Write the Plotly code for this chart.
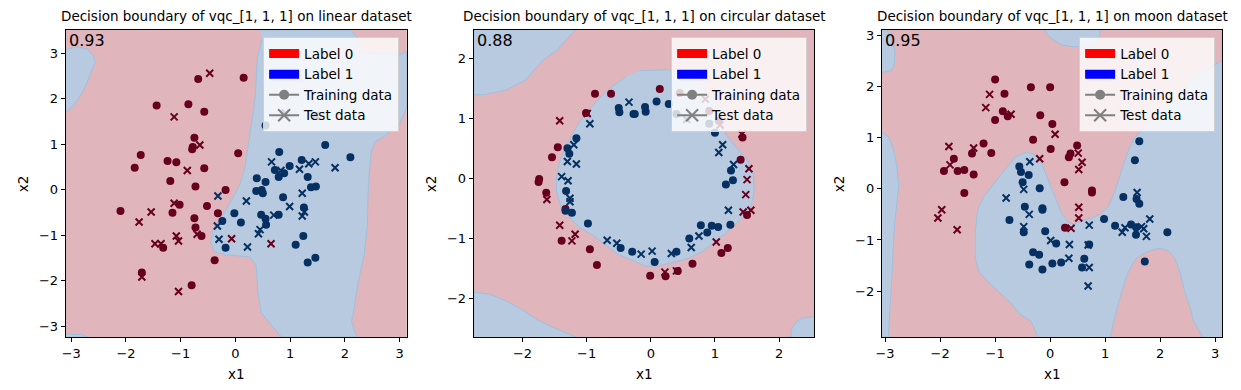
import plotly.graph_objects as go

# ---------------- linear dataset ----------------
lin_train0_x = [-0.68, 0.15, -1.44, -0.86, -0.57, -0.75, -0.78, -0.79, -1.73, 0.05, -1.84, -1.24, -1.08, -0.57, -1.19,
                -0.73, -0.18, -2.10, -1.02, -1.15, -0.52, -0.32, -0.75, -0.73, -0.62, -1.32, -0.38, -1.71, -0.80]
lin_train0_y = [2.43, 2.46, 1.85, 1.88, 1.71, 1.14, 0.94, 0.89, 0.76, 0.80, 0.48, 0.63, 0.60, 0.47, 0.19,
                0.07, -0.01, -0.47, -0.33, -0.51, -0.36, -0.52, -0.63, -0.83, -1.02, -1.28, -1.55, -1.82, -2.10]
lin_test0_x = [-0.47, -1.12, -0.65, -0.88, -1.12, -1.54, -1.76, -1.08, -1.04, -1.47, -1.36, -0.70, -0.07, 0.65, -1.71, -1.04]
lin_test0_y = [2.56, 1.60, 0.98, 0.42, -0.30, -0.49, -0.71, -1.02, -1.13, -1.19, -1.19, -0.98, -1.08, -1.19, -1.92, -2.24]
lin_train1_x = [0.55, 1.64, 2.10, 0.80, 1.21, 0.99, 0.72, 0.79, 0.89, 0.39, 0.55, 1.32, 0.38, 0.48, 0.50, 1.38,
                1.47, 0.87, -0.02, -0.24, 0.10, 0.47, 0.79, 0.55, 0.56, 1.25, 1.24, 1.10, -0.18, 1.32, 1.46]
lin_train1_y = [1.41, 0.98, 0.71, 0.83, 0.65, 0.52, 0.43, 0.28, 0.36, 0.25, 0.17, 0.28, -0.03, -0.01, -0.08, 0.05,
                0.07, -0.17, -0.52, -0.69, -0.72, -0.55, -0.55, -0.64, -0.77, -0.39, -1.02, -1.21, -1.28, -1.60, -1.50]
lin_test1_x = [-0.32, -0.33, -0.30, 0.20, 0.22, 0.42, 0.45, 0.66, 0.83, 0.99, 0.70, 1.17, 1.22, 1.22, 1.26, 1.34,
               1.46, 1.82, 0.91, 1.47]
lin_test1_y = [-0.14, -0.80, -1.09, -0.25, -1.26, -0.97, -0.88, 0.61, 0.42, -0.37, -0.56, 0.45, -0.08, -0.58, -0.49,
               0.57, 0.61, 0.48, 1.68, 1.63]
# regions predicted as label 1
lin_blue_a_x = [-3.10, -2.95, -2.77, -2.62, -2.56, -2.60, -2.72, -2.92, -3.10]
lin_blue_a_y = [1.70, 1.86, 2.19, 2.60, 2.80, 2.95, 3.10, 3.14, 3.08]
lin_blue_b_x = [0.45, 2.11, 2.20, 2.26, 3.00, 3.13, 3.13, 3.00, 2.75, 2.55, 2.48, 2.44, 2.42, 2.41, 2.35, 2.23,
                2.17, 2.12, 2.22, 0.84, 0.60, 0.47, 0.41, 0.38, 0.26, -0.19, -0.38, -0.45, -0.41, -0.25, -0.07,
                0.08, 0.17, 0.23, 0.29, 0.36, 0.40, 0.48]
lin_blue_b_y = [3.51, 3.51, 3.37, 3.01, 2.96, 3.04, 1.80, 1.45, 1.20, 1.05, 0.83, 0.32, -0.19, -0.78, -1.44, -2.10,
                -2.60, -2.90, -3.24, -3.24, -2.90, -2.70, -2.25, -1.66, -1.48, -1.43, -1.37, -1.15, -0.89, -0.60,
                -0.23, 0.10, 0.47, 0.91, 1.42, 2.01, 2.89, 3.30]
lin_blue_c_x = [-3.10, -2.72, -2.80, -3.10]
lin_blue_c_y = [-3.24, -3.24, -3.19, -3.17]
lin_xticks = [-3, -2, -1, 0, 1, 2, 3]
lin_yticks = [-3, -2, -1, 0, 1, 2, 3]

# ---------------- circular dataset ----------------
circ_train0_x = [-0.87, -0.62, 0.14, 0.45, -1.01, -1.45, -1.54, -1.74, -1.75, -1.63, -1.33, -1.39, -0.95, -0.84,
                 -0.01, 0.23, 0.42, 0.65, 1.10, 1.20, 1.43, 1.40, 1.50, 1.06, 0.91]
circ_train0_y = [1.41, 1.41, 1.49, 1.42, 1.09, 0.52, 0.35, -0.01, -0.06, -0.24, -0.51, -1.04, -1.18, -1.44,
                 -1.62, -1.63, -1.54, -1.42, -1.24, -1.16, 0.68, 0.31, -0.61, 0.96, 1.12]
circ_test0_x = [-1.42, -0.99, -1.62, -1.42, -1.23, -1.18, 0.22, 0.40, 1.02, 1.42, 1.53, 1.50, 1.48, 1.44, 1.56, 0.85, 1.08]
circ_test0_y = [0.96, 1.08, -0.35, -0.78, -1.04, -0.93, -1.56, -1.54, -1.06, 0.74, 0.16, -0.02, -0.27, -0.56, -0.53, 1.32, 0.89]
circ_train1_x = [-0.50, -0.49, -0.27, -0.25, -0.09, -0.08, 0.09, 0.28, 0.40, 0.91, 1.00, -1.16, -1.30, -1.27, -1.32,
                 -1.33, -1.23, -0.98, -0.47, -0.29, 0.06, 0.40, 0.60, 0.78, 0.88, 0.95, 1.05, 1.24, 1.17, 1.25, 1.28]
circ_train1_y = [1.17, 1.10, 1.07, 1.07, 1.19, 1.11, 1.28, 1.24, 1.07, 0.91, 0.76, 0.67, 0.50, 0.41, -0.21,
                 -0.54, -0.57, -0.75, -1.16, -1.22, -1.39, -1.22, -1.00, -0.78, -0.90, -0.79, -0.81, -0.77, -0.10, 0.13, -0.03]
circ_test1_x = [-0.34, -0.95, -1.20, -1.30, -1.16, -1.39, -1.29, -1.26, -1.26, -0.68, -0.53, -0.15, 0.02, 0.32, 0.63,
                0.75, 1.06, 1.12, 1.29, 1.21, 0.56]
circ_test1_y = [1.27, 0.91, 0.56, 0.28, 0.24, 0.03, -0.04, -0.33, -0.39, -1.03, -1.08, -1.26, -1.21, -1.25, -1.15,
                -0.96, 0.43, 0.56, 0.23, -0.53, 0.98]
circ_blue_tl_x = [-2.76, -2.76, -2.57, -2.26, -1.95, -1.70, -1.45, -1.30, -1.18]
circ_blue_tl_y = [2.47, 1.39, 1.40, 1.47, 1.64, 1.95, 2.15, 2.33, 2.47]
circ_blue_bl_x = [-2.76, -2.76, -2.51, -2.26, -2.00, -1.76, -1.48, -1.17]
circ_blue_bl_y = [-2.64, -1.89, -1.93, -2.04, -2.19, -2.36, -2.50, -2.64]
circ_blue_br_x = [2.18, 2.20, 2.26, 2.35, 2.55, 2.55]
circ_blue_br_y = [-2.64, -2.50, -2.40, -2.33, -2.30, -2.64]
circ_blue_c_x = [-0.19, 0.28, 0.64, 0.85, 1.00, 1.08, 1.18, 1.34, 1.50, 1.60, 1.61, 1.57, 1.47, 1.31, 1.16, 1.00,
                 0.80, 0.59, 0.33, 0.12, -0.08, -0.29, -0.50, -0.70, -0.91, -1.12, -1.27, -1.40, -1.47, -1.47,
                 -1.42, -1.33, -1.23, -1.12, -0.99, -0.81, -0.60, -0.39]
circ_blue_c_y = [1.79, 1.81, 1.67, 1.47, 1.22, 0.94, 0.72, 0.50, 0.31, 0.06, -0.22, -0.44, -0.61, -0.78, -0.92,
                 -1.06, -1.22, -1.33, -1.40, -1.46, -1.46, -1.36, -1.27, -1.11, -0.94, -0.81, -0.64, -0.47, -0.22,
                 0.03, 0.28, 0.50, 0.72, 0.92, 1.11, 1.33, 1.53, 1.69]
circ_xticks = [-2, -1, 0, 1, 2]
circ_yticks = [-2, -1, 0, 1, 2]

# ---------------- moon dataset ----------------
moon_train0_x = [-1.00, -0.35, 0.00, -0.83, -0.86, -0.77, -0.18, -1.00, 0.04, -0.31, 0.01, -1.21, -1.42, -1.07,
                 -1.75, -1.93, -1.68, -1.56, -1.39, -1.56, 0.49, 0.37, 0.34, 0.26, 0.76, 0.76, 0.27]
moon_train0_y = [2.14, 1.99, 1.99, 1.86, 1.52, 1.42, 1.44, 1.35, 1.27, 0.96, 0.78, 0.89, 0.69, 0.70,
                 0.59, 0.35, 0.35, 0.37, 0.28, -0.08, 0.85, 0.69, 0.62, 0.13, -0.03, -0.07, -0.76]
moon_test0_x = [-1.10, -1.17, -0.71, 0.09, -1.84, -1.39, -1.82, -1.97, -2.04, -1.69, -0.19, 0.51, 0.58, 0.52, 0.52, 0.52, 0.38]
moon_test0_y = [1.85, 1.59, 1.46, 1.07, 0.83, 0.80, 0.47, -0.41, -0.57, -0.80, 0.59, 0.70, 0.52, 0.38, -0.36, -0.57, -0.77]
moon_train1_x = [-0.56, -0.53, -0.39, -0.50, -0.19, -0.46, -0.14, -0.14, -0.74, -0.48, -0.09, 0.11, -0.31, -0.20,
                 -0.38, -0.14, 0.04, 0.20, 0.62, 0.58, 0.71, 0.98, 1.18, 1.33, 1.62, 1.54, 1.57, 1.62, 1.47, 1.56,
                 1.56, 2.13, 1.72]
moon_train1_y = [0.44, 0.33, 0.27, 0.13, 0.01, -0.35, -0.38, -0.41, -0.61, -0.85, -0.83, -1.07, -1.24, -1.29,
                 -1.48, -1.58, -1.46, -1.44, -1.37, -1.54, -1.09, -0.59, -0.72, -0.16, 0.93, 0.56, -0.20, -0.29,
                 -0.70, -0.75, -0.90, -0.85, -1.42]
moon_test1_x = [-0.37, -0.80, -0.48, -0.38, -0.48, 0.01, 0.35, 0.34, 0.71, 0.69, 0.71, 0.69, 1.31, 1.36, 1.58,
                1.70, 1.81, 1.75, 1.66]
moon_test1_y = [0.53, -0.18, -0.01, -0.50, -0.74, -1.01, -1.09, -1.36, -0.71, -1.10, -1.54, -1.90, -0.85, -0.76,
                -0.07, -0.78, -0.59, -0.93, -0.74]
moon_blue_tl_x = [-3.06, -2.96, -2.90, -2.82, -2.83, -2.88, -3.06]
moon_blue_tl_y = [3.11, 3.11, 2.95, 2.70, 2.45, 2.32, 2.28]
moon_blue_l_x = [-3.06, -2.93, -2.85, -2.79, -2.75, -2.79, -2.83, -2.86, -2.89, -2.94, -3.06]
moon_blue_l_y = [1.11, 1.01, 0.78, 0.46, 0.07, -0.33, -0.72, -1.37, -2.03, -2.90, -2.90]
moon_blue_t_x = [-0.10, -0.01, 0.20, 0.44, 0.80, 0.89, 0.91]
moon_blue_t_y = [3.11, 2.97, 2.82, 2.78, 2.80, 2.94, 3.11]
moon_blue_m_x = [3.13, 2.60, 2.10, 1.69, 1.52, 1.41, 1.33, 1.25, 1.17, 1.07, 0.92, 0.74, 0.56, 0.44, 0.32, 0.20,
                 0.08, -0.04, -0.16, -0.28, -0.43, -0.61, -0.79, -1.00, -1.21, -1.32, -1.36, -1.36, -1.29, -1.12,
                 -0.91, -0.73, -0.55, -0.34, -0.22, 1.09, 1.16, 1.28, 1.40, 1.55, 1.76, 2.00, 2.15, 2.27, 2.36,
                 2.45, 2.57, 2.60, 2.78, 3.13]
moon_blue_m_y = [2.52, 2.15, 1.60, 1.18, 0.98, 0.72, 0.46, 0.20, -0.07, -0.33, -0.49, -0.58, -0.62, -0.69, -0.65,
                 -0.46, -0.13, 0.20, 0.51, 0.67, 0.72, 0.64, 0.42, 0.13, -0.16, -0.42, -0.85, -1.37, -1.63, -1.83,
                 -2.03, -2.22, -2.45, -2.60, -2.91, -2.91, -2.58, -2.09, -1.67, -1.37, -1.23, -1.16, -1.21, -1.37,
                 -1.63, -2.03, -2.42, -2.58, -2.91, -2.91]
moon_xticks = [-3, -2, -1, 0, 1, 2, 3]
moon_yticks = [-2, -1, 0, 1, 2, 3]

# page body has an 8px margin; figure is sized so everything fits in the 1241x390 window
OFF = 8
W, H = 1241 - OFF, 390 - OFF
TOP_PX, BOT_PX = 30 - OFF, 336.7 - OFF
MT, MB = TOP_PX, H - BOT_PX
PH = H - MT - MB
FONT = "DejaVu Sans"
RED_BG = "#e0b5bc"
BLUE_BG = "#b8cadf"
EDGE = "#9ec0de"
C0 = "#67001f"
C1 = "#053061"

panels = [
    dict(title="Decision boundary of vqc_[1, 1, 1] on linear dataset", acc="0.93",
         px=(60, 402.7), xr=[-3.10, 3.13], yr=[-3.24, 3.51], xt=lin_xticks, yt=lin_yticks, legx=395,
         regions=[(lin_blue_a_x, lin_blue_a_y), (lin_blue_b_x, lin_blue_b_y), (lin_blue_c_x, lin_blue_c_y)],
         pts=[(lin_train0_x, lin_train0_y, C0, "circle"), (lin_train1_x, lin_train1_y, C1, "circle"),
              (lin_test0_x, lin_test0_y, C0, "x"), (lin_test1_x, lin_test1_y, C1, "x")]),
    dict(title="Decision boundary of vqc_[1, 1, 1] on circular dataset", acc="0.88",
         px=(470, 812.3), xr=[-2.76, 2.55], yr=[-2.64, 2.47], xt=circ_xticks, yt=circ_yticks, legx=805,
         regions=[(circ_blue_tl_x, circ_blue_tl_y), (circ_blue_bl_x, circ_blue_bl_y),
                  (circ_blue_br_x, circ_blue_br_y), (circ_blue_c_x, circ_blue_c_y)],
         pts=[(circ_train0_x, circ_train0_y, C0, "circle"), (circ_train1_x, circ_train1_y, C1, "circle"),
              (circ_test0_x, circ_test0_y, C0, "x"), (circ_test1_x, circ_test1_y, C1, "x")]),
    dict(title="Decision boundary of vqc_[1, 1, 1] on moon dataset", acc="0.95",
         px=(880, 1222.3), xr=[-3.06, 3.13], yr=[-2.90, 3.11], xt=moon_xticks, yt=moon_yticks, legx=1215,
         regions=[(moon_blue_tl_x, moon_blue_tl_y), (moon_blue_l_x, moon_blue_l_y),
                  (moon_blue_t_x, moon_blue_t_y), (moon_blue_m_x, moon_blue_m_y)],
         pts=[(moon_train0_x, moon_train0_y, C0, "circle"), (moon_train1_x, moon_train1_y, C1, "circle"),
              (moon_test0_x, moon_test0_y, C0, "x"), (moon_test1_x, moon_test1_y, C1, "x")]),
]

fig = go.Figure()
annotations = []
layout_axes = {}
for i, p in enumerate(panels):
    n = "" if i == 0 else str(i + 1)
    xa, ya = "x" + n, "y" + n
    leg = "legend" + n
    for rx, ry in p["regions"]:
        fig.add_trace(go.Scatter(x=rx, y=ry, mode="lines", fill="toself", fillcolor=BLUE_BG,
                                 line=dict(color=EDGE, width=1), hoverinfo="skip", showlegend=False,
                                 xaxis=xa, yaxis=ya))
    for px_, py_, col, sym in p["pts"]:
        if sym == "circle":
            mk = dict(symbol="circle", size=8, color=col, line=dict(width=0))
        else:
            mk = dict(symbol="x-thin", size=7, color=col, line=dict(color=col, width=2))
        fig.add_trace(go.Scatter(x=px_, y=py_, mode="markers", marker=mk, showlegend=False,
                                 xaxis=xa, yaxis=ya))
    # legend entries
    fig.add_trace(go.Scatter(x=[None], y=[None], mode="lines", name="Label 0",
                             line=dict(color="red", width=9), legend=leg, xaxis=xa, yaxis=ya))
    fig.add_trace(go.Scatter(x=[None], y=[None], mode="lines", name="Label 1",
                             line=dict(color="blue", width=9), legend=leg, xaxis=xa, yaxis=ya))
    fig.add_trace(go.Scatter(x=[None], y=[None], mode="lines+markers", name="Training data",
                             line=dict(color="gray", width=2),
                             marker=dict(symbol="circle", size=10, color="gray"), legend=leg, xaxis=xa, yaxis=ya))
    fig.add_trace(go.Scatter(x=[None], y=[None], mode="lines+markers", name="Test data",
                             line=dict(color="gray", width=2),
                             marker=dict(symbol="x-thin", size=12, color="gray", line=dict(color="gray", width=2)),
                             legend=leg, xaxis=xa, yaxis=ya))

    d0, d1 = (p["px"][0] - OFF) / W, (p["px"][1] - OFF) / W
    common = dict(showline=True, linecolor="black", linewidth=1, mirror=True, ticks="outside", ticklen=4,
                  tickwidth=1, tickcolor="black", showgrid=False, zeroline=False,
                  tickfont=dict(family=FONT, size=13, color="black"))
    layout_axes["xaxis" + n] = dict(domain=[d0, d1], range=p["xr"], tickvals=p["xt"], anchor=ya, **common)
    layout_axes["yaxis" + n] = dict(domain=[0, 1], range=p["yr"], tickvals=p["yt"], anchor=xa, **common)
    layout_axes[leg] = dict(x=(p["legx"] - OFF) / W, xanchor="right", y=(BOT_PX - (37.3 - OFF)) / PH,
                            yanchor="top",
                            bgcolor="rgba(255,255,255,0.8)", bordercolor="#d0d0d0", borderwidth=1,
                            font=dict(family=FONT, size=13.5, color="black"), itemwidth=30,
                            traceorder="normal", tracegroupgap=0)
    cx = (d0 + d1) / 2
    annotations += [
        dict(text=p["title"], x=cx, y=1, xref="paper", yref="paper", xanchor="center", yanchor="bottom",
             yshift=4, showarrow=False, font=dict(family=FONT, size=13.5, color="black")),
        dict(text=p["acc"], x=d0, y=1, xref="paper", yref="paper", xanchor="left", yanchor="top",
             xshift=1, yshift=1, showarrow=False, font=dict(family=FONT, size=16, color="black")),
        dict(text="x1", x=cx, y=0, xref="paper", yref="paper", xanchor="center", yanchor="top",
             yshift=-27, showarrow=False, font=dict(family=FONT, size=13.5, color="black")),
        dict(text="x2", x=d0, y=0.5, xref="paper", yref="paper", xanchor="center", yanchor="middle",
             xshift=-43, textangle=-90, showarrow=False, font=dict(family=FONT, size=13.5, color="black")),
    ]

fig.update_layout(width=W, height=H, margin=dict(l=0, r=0, t=MT, b=MB),
                  paper_bgcolor="white", plot_bgcolor=RED_BG, annotations=annotations,
                  font=dict(family=FONT, color="black"), **layout_axes)
fig.write_html("out.html")
